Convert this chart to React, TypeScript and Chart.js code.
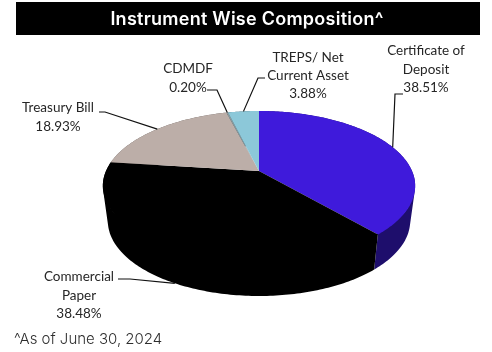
import { useEffect, useRef } from "react";
import { Chart, registerables } from "chart.js";

Chart.register(...registerables);

const categories = ["Certificate of Deposit", "Commercial Paper", "Treasury Bill", "CDMDF", "TREPS/ Net Current Asset"];
const shares = [38.51, 38.48, 18.93, 0.2, 3.88];
const topColors = ["#3f1adb", "#000000", "#bcaea8", "#8d9a9e", "#8cc8d9"];
const wallColors = ["#1e0e6c", "#000000", "#5e5754", "#464d4f", "#46646c"];
const labelLines = [
  ["Certificate of", "Deposit", "38.51%"],
  ["Commercial", "Paper", "38.48%"],
  ["Treasury Bill", "18.93%"],
  ["CDMDF", "0.20%"],
  ["TREPS/ Net", "Current Asset", "3.88%"],
];
const titleText = "Instrument Wise Composition^";
const footnoteText = "^As of June 30, 2024";

// Callout layout for each slice: text centre, first baseline and the leader's bend points.
const callouts = [
  { cx: 426, y: 55, step: 18.5, bend: [[403, 94], [395, 94]], lower: false },
  { cx: 79, y: 281, step: 18.5, bend: [[118, 279], [130, 279]], lower: true },
  { cx: 58, y: 112, step: 19, bend: [[99, 112], [105, 112]], lower: false },
  { cx: 188, y: 73, step: 19, bend: [[207, 90], [217, 90]], lower: false },
  { cx: 308, y: 62, step: 18, bend: [[265, 78], [258, 78]], lower: false },
];

// Perspective of the tilted disc: the near edge is stretched, the far edge compressed.
const PERSPECTIVE = -0.2;
const FLATTEN = 72 / 153;
const DEPTH = 35;
const BASE_SHRINK = 0.968;
// The front of the wall starts just under the top face so no background shows along the shared rim.
const WALL_OVERLAP = 2;

type Point = { x: number; y: number };

function project(arc: any, angle: number, lower: boolean): Point {
  const u = Math.cos(angle);
  const v = Math.sin(angle);
  const w = 1 + PERSPECTIVE * v;
  const shrink = lower ? BASE_SHRINK : 1;
  return {
    x: arc.x + (arc.outerRadius * u * shrink) / w,
    y: arc.y + (arc.outerRadius * FLATTEN * v) / w + (lower ? DEPTH : 0),
  };
}

function rimAngles(arc: any): number[] {
  const count = Math.max(2, Math.ceil((arc.endAngle - arc.startAngle) * 60));
  const angles: number[] = [];
  for (let i = 0; i <= count; i++) {
    angles.push(arc.startAngle + ((arc.endAngle - arc.startAngle) * i) / count);
  }
  return angles;
}

function signedArea(quad: Point[]): number {
  return quad.reduce((sum, p, i) => {
    const q = quad[(i + 1) % quad.length];
    return sum + p.x * q.y - q.x * p.y;
  }, 0);
}

const solidPie = {
  id: "solidPie",
  beforeDatasetDraw(chart: any) {
    const { ctx } = chart;
    const arcs = chart.getDatasetMeta(0).data;
    // Side wall: rim-step quads share one path, all wound the same way, so the fill is their union.
    arcs.forEach((arc: any, i: number) => {
      const angles = rimAngles(arc);
      const top = angles.map((a) => {
        const p = project(arc, a, false);
        return { x: p.x, y: p.y - WALL_OVERLAP * Math.max(0, Math.sin(a)) };
      });
      const base = angles.map((a) => project(arc, a, true));
      ctx.beginPath();
      for (let k = 0; k < top.length - 1; k++) {
        const quad = [top[k], top[k + 1], base[k + 1], base[k]];
        if (signedArea(quad) < 0) quad.reverse();
        quad.forEach((p, n) => (n ? ctx.lineTo(p.x, p.y) : ctx.moveTo(p.x, p.y)));
        ctx.closePath();
      }
      ctx.fillStyle = wallColors[i];
      ctx.fill("nonzero");
    });
    arcs.forEach((arc: any, i: number) => {
      ctx.beginPath();
      ctx.moveTo(arc.x, arc.y);
      rimAngles(arc).forEach((a) => {
        const p = project(arc, a, false);
        ctx.lineTo(p.x, p.y);
      });
      ctx.closePath();
      ctx.fillStyle = topColors[i];
      ctx.fill();
    });
    return false;
  },
};

const annotations = {
  id: "annotations",
  afterDraw(chart: any) {
    const { ctx } = chart;
    ctx.save();

    ctx.fillStyle = "#000000";
    ctx.fillRect(16, 2, 464, 33);
    ctx.fillStyle = "#ffffff";
    ctx.font = "600 18px Inter";
    ctx.letterSpacing = "0.25px";
    ctx.textAlign = "center";
    ctx.textBaseline = "alphabetic";
    ctx.fillText(titleText, 247, 25);
    ctx.letterSpacing = "0px";

    ctx.fillStyle = "#2e2e2e";
    ctx.font = "300 15px Inter";
    ctx.textAlign = "left";
    ctx.fillText(footnoteText, 14, 344);

    const arcs = chart.getDatasetMeta(0).data;
    arcs.forEach((arc: any, i: number) => {
      const c = callouts[i];
      const end = project(arc, (arc.startAngle + arc.endAngle) / 2, c.lower);
      ctx.beginPath();
      c.bend.forEach(([x, y], k) => (k ? ctx.lineTo(x, y) : ctx.moveTo(x, y)));
      ctx.lineTo(end.x, end.y);
      ctx.strokeStyle = "#111111";
      ctx.lineWidth = 1.2;
      ctx.stroke();

      ctx.fillStyle = "#262626";
      ctx.font = "13.5px Lato";
      ctx.textAlign = "center";
      labelLines[i].forEach((line, k) => ctx.fillText(line, c.cx, c.y + k * c.step));
    });
    ctx.restore();
  },
};

export default function App() {
  const canvasRef = useRef<HTMLCanvasElement>(null);

  useEffect(() => {
    const chart = new Chart(canvasRef.current!, {
      type: "pie",
      data: {
        labels: categories,
        datasets: [{ data: shares, backgroundColor: topColors, borderWidth: 0 }],
      },
      options: {
        animation: false,
        responsive: false,
        layout: { padding: { left: 106, right: 80, top: 18, bottom: 28 } },
        plugins: { legend: { display: false }, tooltip: { enabled: false } },
      },
      plugins: [solidPie, annotations],
    });
    return () => chart.destroy();
  }, []);

  return (
    <div style={{ position: "fixed", left: 0, top: 0, width: 492, height: 352, background: "#ffffff" }}>
      <canvas ref={canvasRef} width={492} height={352} style={{ display: "block" }} />
    </div>
  );
}
